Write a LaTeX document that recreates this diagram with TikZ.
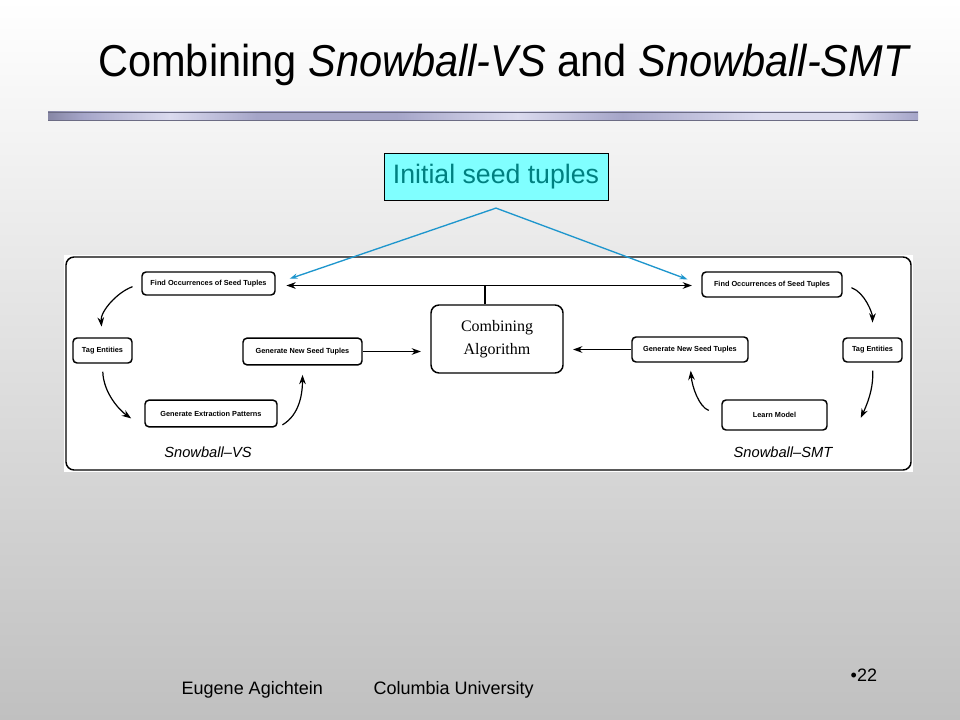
\documentclass[tikz,border=0pt]{standalone}
\usepackage{fontspec}
\usepackage{graphicx}
\setmainfont{Liberation Sans}
\newfontfamily\figserif{Liberation Serif}
\usetikzlibrary{arrows.meta,positioning}
\definecolor{seedfill}{RGB}{128,255,255}
\definecolor{seedtext}{RGB}{0,128,128}
\definecolor{seedline}{RGB}{30,150,205}
\definecolor{slidegray}{RGB}{192,192,192}
\definecolor{bardark}{RGB}{135,135,165}
\definecolor{barmid}{RGB}{165,165,200}
\definecolor{barlight}{RGB}{218,218,238}
\pgfdeclarehorizontalshading{barshade}{100bp}{color(0bp)=(bardark); color(25bp)=(bardark); color(27bp)=(barmid); color(32bp)=(barlight); color(37bp)=(barmid); color(45bp)=(barmid); color(52bp)=(barlight); color(58bp)=(barmid); color(66bp)=(barlight); color(71bp)=(barlight); color(75bp)=(barmid); color(100bp)=(barmid)}
\tikzset{
  box/.style={draw,line width=1.1pt,rounded corners=3pt,fill=white,inner sep=1pt,
    font=\fontsize{5.5}{6}\selectfont\bfseries},
  cyc/.style={line width=0.9pt,-{Stealth[length=7pt,width=5pt]},shorten <=6pt,shorten >=7pt},
  link/.style={line width=0.9pt},
  seedarrow/.style={seedline,line width=1pt,-{Stealth[length=6pt,width=4pt]},shorten >=11pt}
}
\begin{document}
\begin{tikzpicture}[x=0.75pt,y=-0.75pt]
\shade[top color=white,bottom color=slidegray] (0,0) rectangle (960,720);
\useasboundingbox (0,0) rectangle (960,720);
\shade[shading=barshade] (48,112) rectangle (918,120);
\draw[bardark!80!black,line width=0.6pt] (48,112) -- (918,112) (48,120) -- (918,120);

\node[anchor=base west,inner sep=0pt,font=\fontsize{33.5}{40}\selectfont] (title) at (98,77)
  {\scalebox{0.93}[1]{Combining \textit{Snowball-VS} and \textit{Snowball-SMT}}};

\node[draw,fill=seedfill,text=seedtext,font=\fontsize{20}{24}\selectfont,
  minimum width=168pt,minimum height=35pt] (seed) at (496,176.5) {Initial seed tuples};

\fill[white] (64,255) rectangle (913,472);
\draw[line width=1.1pt,rounded corners=6pt] (66,257) rectangle (911,470);

\node[box,minimum width=99.75pt,minimum height=17.25pt] (occvs) at (208.5,283.5) {Find Occurrences of Seed Tuples};
\node[box,minimum width=44.25pt,minimum height=18.75pt] (tagvs) at (102.5,350.5) {Tag Entities};
\node[box,minimum width=89.25pt,minimum height=20pt] (genvs) at (302.5,351.5) {Generate New Seed Tuples};
\node[box,minimum width=99pt,minimum height=20pt] (extvs) at (211,413.5) {Generate Extraction Patterns};
\node[box,font=\figserif\fontsize{12}{17}\selectfont,align=center,rounded corners=6pt,
  minimum width=99pt,minimum height=51pt] (comb) at (497,339) {Combining\\Algorithm};
\node[box,minimum width=105pt,minimum height=18.75pt] (occsmt) at (772,284.5) {Find Occurrences of Seed Tuples};
\node[box,minimum width=44.25pt,minimum height=18pt] (tagsmt) at (872.5,350) {Tag Entities};
\node[box,minimum width=87pt,minimum height=18.75pt] (gensmt) at (690,349.5) {Generate New Seed Tuples};
\node[box,minimum width=78.75pt,minimum height=22.5pt] (learn) at (774.5,415) {Learn Model};
\node[font=\itshape\fontsize{11}{13}\selectfont] (vslabel) at (208,452) {Snowball–VS};
\node[font=\itshape\fontsize{11}{13}\selectfont] (smtlabel) at (783,452) {Snowball–SMT};

\coordinate (learnin) at ([xshift=24.75pt,yshift=-2.25pt]learn.east);

\draw[cyc,shorten <=7pt,shorten >=8pt] (occvs.west) to[out=200,in=95] (tagvs.north);
\draw[cyc,shorten >=12pt] (tagvs.south) to[out=-88,in=145] (extvs.south west);
\draw[cyc,shorten <=4pt] (extvs.south east) to[out=30,in=-90] (genvs.south);
\draw[cyc,shorten <=7pt,shorten >=11pt] (occsmt.east) to[out=-20,in=90] (tagsmt.north);
\draw[cyc,shorten >=0pt] (tagsmt.south) to[out=-88,in=65] (learnin);
\draw[cyc,shorten <=10pt,shorten >=6pt] (learn.west) to[out=160,in=-85] (gensmt.south);

\draw[link,{Stealth[length=7pt,width=5pt]}-{Stealth[length=7pt,width=5pt]},shorten <=8pt,shorten >=7pt]
  ([yshift=-1.5pt]occvs.east) -- ([yshift=-1.5pt]occvs.east -| occsmt.west);
\draw[link] ([xshift=-9pt]comb.north) -- ([xshift=-9pt,yshift=-1.5pt]comb.north |- occvs.east);
\draw[link,-{Stealth[length=7pt,width=5pt]},shorten >=7pt] (genvs.east) -- (genvs.east -| comb.west);
\draw[link,-{Stealth[length=7pt,width=5pt]},shorten >=7pt] (gensmt.west) -- (gensmt.west -| comb.east);

\coordinate (fork) at ([yshift=-6pt]seed.south);
\draw[seedarrow] (fork) -- (occvs.east);
\draw[seedarrow] (fork) -- (occsmt.west);

\node[anchor=west,font=\fontsize{13.5}{16}\selectfont] (author) at (177,690) {Eugene Agichtein};
\node[anchor=west,font=\fontsize{13.5}{16}\selectfont] (univ) at (369,690) {Columbia University};
\node[anchor=west,font=\fontsize{13.5}{16}\selectfont] (page) at (846,675) {•22};
\end{tikzpicture}
\end{document}
